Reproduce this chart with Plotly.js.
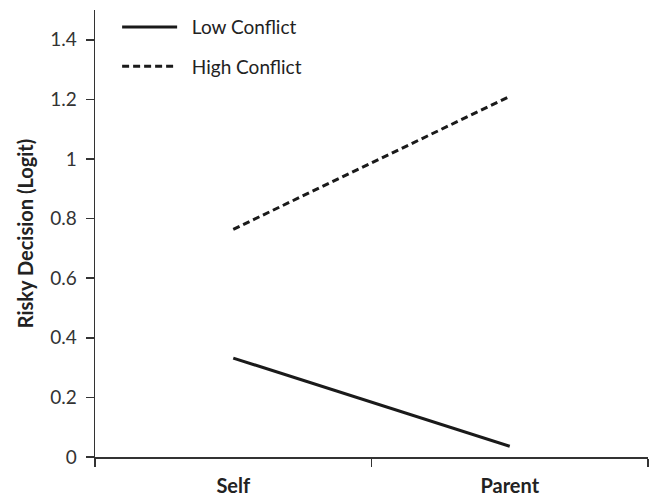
<!DOCTYPE html>
<html>
<head>
<meta charset="utf-8">
<script src="https://cdn.plot.ly/plotly-3.0.1.min.js"></script>
<style>html,body{margin:0;padding:0;background:#fff;}#chart{width:651px;height:498px;}</style>
</head>
<body>
<div id="chart"></div>
<script>
const categories = ["Self", "Parent"];
const lowConflict = [0.332, 0.036];
const highConflict = [0.764, 1.21];
const yTicks = [0, 0.2, 0.4, 0.6, 0.8, 1, 1.2, 1.4];

const FONT = "Lato, 'Open Sans', sans-serif";
const traces = [
  {x: categories, y: lowConflict, type: "scatter", mode: "lines", name: "&nbsp;&nbsp;Low Conflict",
   legendgroup: "a", line: {color: "#1a1a1a", width: 3}},
  {x: categories, y: highConflict, type: "scatter", mode: "lines", name: "&nbsp;&nbsp;High Conflict",
   legendgroup: "b", line: {color: "#1a1a1a", width: 3, dash: "7px,4px"}}
];
const layout = {
  width: 651, height: 498,
  margin: {l: 95, r: 3, t: 10, b: 41},
  paper_bgcolor: "#fff", plot_bgcolor: "#fff",
  font: {family: FONT, size: 19, color: "#333"},
  showlegend: true,
  legend: {x: 0.04, y: 1.004, xanchor: "left", yanchor: "top", bgcolor: "rgba(0,0,0,0)",
           font: {family: FONT, size: 19, color: "#222"}, itemwidth: 55,
           traceorder: "grouped", tracegroupgap: 11.5},
  xaxis: {type: "category", range: [-0.5, 1.5], showgrid: false, zeroline: false,
          showline: true, linecolor: "#333", linewidth: 1.5,
          ticks: "outside", ticklen: 8, tickcolor: "#333", tickwidth: 1.5,
          tickson: "boundaries", ticklabelstandoff: 10,
          tickfont: {family: FONT, size: 20, color: "#222", weight: "bold"}},
  yaxis: {range: [0, 1.5], tickvals: yTicks, showgrid: false, zeroline: false,
          showline: true, linecolor: "#333", linewidth: 1.5,
          ticks: "outside", ticklen: 8, tickcolor: "#333", tickwidth: 1.5,
          ticklabelstandoff: 5,
          tickfont: {family: FONT, size: 19, color: "#333"},
          title: {text: "<b>Risky Decision (Logit)</b>", font: {family: FONT, size: 20, color: "#222"}, standoff: 11}}
};
Plotly.newPlot("chart", traces, layout, {staticPlot: true});
</script>
</body>
</html>
